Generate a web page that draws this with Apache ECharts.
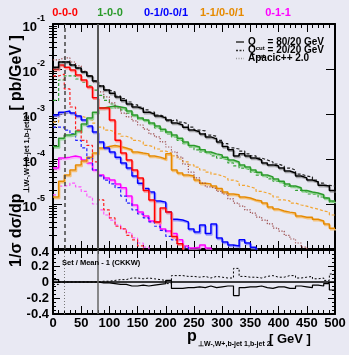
<!DOCTYPE html>
<html><head><meta charset="utf-8">
<script src="https://cdn.jsdelivr.net/npm/echarts@6/dist/echarts.min.js"></script>
<style>html,body{margin:0;padding:0;background:#e9e9f3;}#c{width:349px;height:355px;}</style>
</head><body><div id="c"></div>
<script>
// ---- data (10 GeV bins, lower bin edges) ----
const binLow = [0,10,20,30,40,50,60,70,80,90,100,110,120,130,140,150,160,170,180,190,200,210,220,230,240,250,260,270,280,290,300,310,320,330,340,350,360,370,380,390,400,410,420,430,440,450,460,470,480,490];
const xMax = 500;
const OFF = 1e-7; // below the visible range

const blackSolid = [1.1e-2,1.43e-2,1.43e-2,1.23e-2,1.05e-2,8.6e-3,7.0e-3,5.4e-3,4.2e-3,3.4e-3,2.9e-3,2.4e-3,2.0e-3,1.67e-3,1.43e-3,1.3e-3,1.1e-3,1.0e-3,9.0e-4,8.2e-4,7.4e-4,6.3e-4,5.7e-4,5.1e-4,4.4e-4,4.0e-4,3.6e-4,3.1e-4,2.8e-4,2.4e-4,1.9e-4,1.6e-4,1.17e-4,1.3e-4,1.17e-4,1.05e-4,9.5e-5,8.2e-5,7.4e-5,7.0e-5,6.3e-5,5.4e-5,4.9e-5,4.2e-5,3.8e-5,3.4e-5,3.1e-5,2.6e-5,2.5e-5,2.0e-5];
const blackDash = [1.05e-2,1.43e-2,1.43e-2,1.23e-2,1.05e-2,8.6e-3,7.0e-3,5.4e-3,4.2e-3,3.4e-3,3.1e-3,2.5e-3,2.2e-3,1.85e-3,1.6e-3,1.43e-3,1.23e-3,1.1e-3,9.5e-4,8.6e-4,7.0e-4,7.4e-4,6.6e-4,6.0e-4,5.1e-4,4.4e-4,4.2e-4,3.4e-4,3.2e-4,2.6e-4,2.2e-4,1.76e-4,1.67e-4,1.5e-4,1.3e-4,1.17e-4,1.05e-4,9.5e-5,8.6e-5,7.7e-5,7.0e-5,6.3e-5,5.7e-5,4.6e-5,4.2e-5,4.0e-5,3.4e-5,2.9e-5,2.6e-5,2.5e-5];
const apacicTotal = [1.6e-2,1.76e-2,1.76e-2,1.43e-2,1.17e-2,9.0e-3,7.0e-3,5.1e-3,3.1e-3,2.4e-3,1.76e-3,1.36e-3,1.05e-3,8.6e-4,7.0e-4,5.7e-4,4.6e-4,3.6e-4,3.1e-4,2.4e-4,1.85e-4,1.43e-4,1.1e-4,7.7e-5,5.1e-5,3.8e-5,2.9e-5,2.4e-5,2.2e-5,1.9e-5,1.67e-5,1.3e-5,1.05e-5,9.0e-6,7.4e-6,6.3e-6,5.1e-6,4.4e-6,3.6e-6,2.9e-6,2.5e-6,2.0e-6,1.67e-6,1.36e-6,1.1e-6,OFF];
const redSolid = [1.0e-2,1.23e-2,1.1e-2,9.5e-3,7.4e-3,5.7e-3,4.0e-3,2.3e-3,1.36e-3,1.36e-3,7.4e-4,2.6e-4,1.36e-4,9.5e-5,5.7e-5,3.8e-5,2.0e-5,1.23e-5,4.0e-6,8.2e-6,6.6e-6,1.9e-6,1.3e-6,OFF];
const redDash = [7.0e-3,7.7e-3,3.6e-3,1.43e-3,4.4e-4,2.6e-4,2.0e-4,8.6e-5,1.23e-5,7.4e-6,4.9e-6,3.2e-6,2.8e-6,2.0e-6,1.6e-6,1.17e-6,OFF];
const greenSolid = [1.9e-4,2.9e-4,3.4e-4,3.6e-4,4.2e-4,6.0e-4,8.2e-4,1.1e-3,1.36e-3,1.43e-3,1.5e-3,1.43e-3,1.36e-3,1.17e-3,9.5e-4,8.2e-4,7.4e-4,6.3e-4,5.4e-4,4.6e-4,4.0e-4,3.4e-4,2.9e-4,2.4e-4,2.0e-4,1.85e-4,1.6e-4,1.43e-4,1.3e-4,1.23e-4,1.1e-4,9.5e-5,8.6e-5,7.4e-5,6.6e-5,5.7e-5,5.1e-5,4.4e-5,4.0e-5,3.6e-5,3.2e-5,2.8e-5,2.5e-5,2.3e-5,2.0e-5,1.85e-5,1.76e-5,1.6e-5,1.36e-5,1.17e-5];
const greenDash = [2.0e-3,5.7e-3,7.0e-3,7.0e-3,6.0e-3,5.1e-3,4.2e-3,3.4e-3,2.6e-3,2.0e-3,1.67e-3,1.43e-3,1.23e-3,1.05e-3,9.0e-4,7.7e-4,7.0e-4,6.0e-4,4.9e-4,4.2e-4,3.6e-4,3.1e-4,2.6e-4,2.2e-4,1.85e-4,1.6e-4,1.43e-4,1.3e-4,1.17e-4,1.05e-4,9.5e-5,8.2e-5,7.0e-5,6.3e-5,5.7e-5,5.1e-5,4.4e-5,4.0e-5,3.6e-5,3.2e-5,2.9e-5,2.5e-5,2.3e-5,2.0e-5,1.85e-5,1.67e-5,1.6e-5,1.43e-5,1.3e-5,1.1e-5];
const blueSolid = [9.5e-4,1.1e-3,1.17e-3,1.05e-3,9.0e-4,7.4e-4,5.4e-4,4.0e-4,2.4e-4,1.76e-4,1.43e-4,1.1e-4,8.2e-5,6.3e-5,4.2e-5,2.9e-5,2.2e-5,1.85e-5,1.17e-5,1.1e-5,6.6e-6,4.6e-6,4.4e-6,4.0e-6,2.8e-6,2.4e-6,3.4e-6,2.2e-6,3.6e-6,1.76e-6,1.43e-6,1.23e-6,1.17e-6,1.6e-6,1.36e-6,1.1e-6,OFF];
const blueDash = [5.1e-4,5.1e-4,4.4e-4,3.6e-4,2.6e-4,1.76e-4,1.05e-4,5.7e-5,4.2e-5,3.4e-5,2.8e-5,2.3e-5,1.5e-5,1.05e-5,7.4e-6,6.0e-6,4.9e-6,4.0e-6,3.2e-6,2.6e-6,1.9e-6,1.6e-6,1.3e-6,1.1e-6,OFF];
const orangeSolid = [1.43e-5,3.2e-5,4.4e-5,5.7e-5,7.4e-5,9.0e-5,1.1e-4,1.36e-4,1.76e-4,1.9e-4,2.0e-4,1.9e-4,1.76e-4,1.6e-4,1.43e-4,1.36e-4,1.3e-4,1.17e-4,1.1e-4,1.0e-4,1.3e-4,5.7e-5,4.9e-5,4.4e-5,4.2e-5,3.4e-5,2.9e-5,2.8e-5,2.5e-5,2.2e-5,1.85e-5,1.67e-5,1.6e-5,1.43e-5,1.36e-5,1.23e-5,1.17e-5,1.05e-5,8.6e-6,7.7e-6,7.0e-6,6.6e-6,6.3e-6,5.4e-6,5.1e-6,5.1e-6,4.6e-6,4.2e-6,3.6e-6,2.9e-6];
const orangeDash = [6.6e-4,1.0e-3,1.05e-3,1.0e-3,9.0e-4,8.2e-4,7.4e-4,6.3e-4,5.1e-4,4.4e-4,4.0e-4,3.6e-4,3.2e-4,2.9e-4,2.6e-4,2.4e-4,2.0e-4,1.85e-4,1.67e-4,1.5e-4,1.36e-4,1.17e-4,1.0e-4,8.6e-5,7.4e-5,6.6e-5,5.7e-5,5.1e-5,4.6e-5,4.2e-5,3.8e-5,3.4e-5,3.1e-5,2.6e-5,2.4e-5,2.2e-5,1.9e-5,1.76e-5,1.6e-5,1.43e-5,1.23e-5,1.17e-5,1.05e-5,9.5e-6,9.0e-6,8.2e-6,7.7e-6,7.0e-6,6.6e-6,5.7e-6];
const magentaSolid = [6.3e-5,1.05e-4,1.1e-4,1.17e-4,1.1e-4,9.5e-5,8.2e-5,5.7e-5,4.4e-5,3.8e-5,3.4e-5,2.8e-5,2.3e-5,1.5e-5,9.5e-6,6.6e-6,5.4e-6,4.2e-6,3.8e-6,2.8e-6,2.5e-6,2.2e-6,1.6e-6,1.17e-6,1.05e-6,1.1e-6,1.23e-6,1.05e-6,OFF];
const magentaDash = [1.6e-5,2.5e-5,2.6e-5,2.9e-5,2.4e-5,1.9e-5,1.43e-5,1.0e-5,7.4e-6,5.7e-6,4.4e-6,3.4e-6,2.8e-6,2.3e-6,1.76e-6,1.36e-6,1.1e-6,OFF];

// ratio panel: Set / Mean - 1
const ratioSolid = [0.03,0,0,0,0,0,0,0,-0.01,-0.01,-0.02,-0.03,-0.03,-0.05,-0.05,-0.04,-0.05,-0.04,-0.03,-0.02,0.02,-0.08,-0.08,-0.07,-0.07,-0.06,-0.07,-0.05,-0.07,-0.06,-0.05,-0.05,-0.17,-0.07,-0.06,-0.06,-0.05,-0.07,-0.08,-0.06,-0.06,-0.08,-0.08,-0.05,-0.06,-0.07,-0.04,-0.05,-0.02,-0.10];
const ratioDash = [-0.03,0,0,0,0,0,0,0,0.01,0.01,0.02,0.03,0.03,0.05,0.05,0.04,0.05,0.04,0.03,0.02,-0.02,0.08,0.08,0.07,0.07,0.06,0.07,0.05,0.07,0.06,0.05,0.05,0.17,0.07,0.06,0.06,0.05,0.07,0.08,0.06,0.06,0.08,0.08,0.05,0.06,0.07,0.04,0.05,0.02,0.10];

const multLabels = ['0-0-0','1-0-0','0-1/0-0/1','1-1/0-0/1','0-1-1'];
const multColors = ['#ff0000','#2a9a2a','#0000ff','#e68a00','#ff00ff'];
const multX = [65,110,166,222,278];
const legendLabels = ['= 80/20 GeV','= 20/20 GeV','Apacic++ 2.0'];
const cutMarks = [20, 80];

const FONT = '"Liberation Sans", Arial, Helvetica, sans-serif';

function hist(vals){
  const d = vals.map((v,i)=>[binLow[i], v]);
  d.push([vals.length < binLow.length ? binLow[vals.length] : xMax, vals[vals.length-1]]);
  return d;
}
function mk(vals, color, dash, width, shadow, lower){
  const ls = {color: color, width: width, type: dash || 'solid', cap: 'butt'};
  if (shadow) Object.assign(ls, {shadowColor: shadow, shadowBlur: 0, shadowOffsetX: 1, shadowOffsetY: 1.5});
  return {type:'line', data: hist(vals), step:'end', symbol:'none', silent:true,
    xAxisIndex: lower?2:0, yAxisIndex: lower?2:0, lineStyle: ls, emphasis:{disabled:true}};
}

const minorLog = [];
for (let d = -6; d <= -2; d++) for (let k = 2; k <= 9; k++) minorLog.push(k * Math.pow(10, d));

const axLine = {show:true, onZero:false, lineStyle:{color:'#000', width:2}};
function xa(grid, pos, labels){
  return {type:'value', gridIndex:grid, position:pos, min:0, max:xMax, interval:50,
    axisLine: axLine,
    axisTick:{show:true, inside:true, length:8, lineStyle:{color:'#000', width:1}},
    minorTick:{show:true, splitNumber:5, length:4, lineStyle:{color:'#000', width:1}},
    splitLine:{show:false}, minorSplitLine:{show:false},
    axisLabel:{show:labels, color:'#000', fontFamily:FONT, fontWeight:'bold', fontSize:13, margin:3}};
}
const richLog = {
  b:{fontSize:13, fontWeight:'bold', fontFamily:FONT, color:'#000', lineHeight:20, verticalAlign:'bottom'},
  e:{fontSize:9, fontWeight:'bold', fontFamily:FONT, color:'#000', lineHeight:10, verticalAlign:'top'}
};
function yl(pos, labels){
  return {type:'log', logBase:10, gridIndex:0, position:pos, min:1e-6, max:0.1,
    axisLine: axLine,
    axisTick:{show:true, inside:true, length:9, lineStyle:{color:'#000', width:1}},
    splitLine:{show:false},
    axisLabel:{show:labels, margin:8, showMinLabel:false,
      formatter: v => '{b|10}{e|' + Math.round(Math.log10(v)) + '}', rich: richLog}};
}
function ylMinor(pos){
  return {type:'log', logBase:10, gridIndex:0, position:pos, min:1e-6, max:0.1,
    axisLine:{show:false}, splitLine:{show:false}, axisLabel:{show:false},
    axisTick:{show:true, inside:true, length:4, customValues: minorLog, lineStyle:{color:'#000', width:1}}};
}
const ratioLabelStyle = {fontFamily:FONT, fontWeight:'bold', fontSize:13, color:'#000'};
function yr(pos, labels){
  return {type:'value', gridIndex:1, position:pos, min:-0.4, max:0.4, interval:0.2,
    axisLine: axLine,
    axisTick:{show:true, inside:true, length:7, lineStyle:{color:'#000', width:1}},
    minorTick:{show:true, splitNumber:4, length:3, lineStyle:{color:'#000', width:1}},
    splitLine:{show:false}, minorSplitLine:{show:false},
    axisLabel:{show:labels, color:'#000', fontFamily:FONT, fontWeight:'bold', fontSize:13, margin:4,
      showMaxLabel:true, showMinLabel:true, hideOverlap:false,
      formatter: v => (Math.abs(v - 0.4) < 1e-9 ? '{t|' + v + '}' : '{n|' + v + '}'),
      rich:{t:Object.assign({padding:[4,0,0,0]}, ratioLabelStyle), n:ratioLabelStyle}}};
}

const graphic = [];
multLabels.forEach((t,i)=>graphic.push({type:'text', x:multX[i], y:13, z:100, silent:true,
  style:{text:t, fill:multColors[i], font:'bold 11px '+FONT, textAlign:'center', align:'center', textVerticalAlign:'middle', verticalAlign:'middle'}}));
// legend (top right)
const legY = [42, 50.5, 58.5];
const legDash = [null, [2,1.5], [1,1.5]];
const legCol = ['#333','#333','#999'];
legY.forEach((y,i)=>{
  graphic.push({type:'line', z:100, silent:true, shape:{x1:236, y1:y, x2:244, y2:y},
    style:{stroke:legCol[i], lineWidth:1.5, lineDash:legDash[i]}});
});
[0,1].forEach(i=>{
  graphic.push({type:'text', x:248, y:legY[i]+2, z:100, silent:true,
    style:{text:'{q|Q}{c|cut}{q| '+legendLabels[i]+'}', textAlign:'left', align:'left', textVerticalAlign:'middle', verticalAlign:'middle',
      rich:{q:{fontSize:10, fontWeight:'bold', fontFamily:FONT, fill:'#000', color:'#000', lineHeight:14, verticalAlign:'top'},
            c:{fontSize:6, fontWeight:'bold', fontFamily:FONT, fill:'#000', color:'#000', verticalAlign:'bottom'}}}});
});
graphic.push({type:'text', x:248, y:legY[2], z:100, silent:true,
  style:{text:legendLabels[2], fill:'#000', font:'bold 10px '+FONT, textAlign:'left', align:'left', textVerticalAlign:'middle', verticalAlign:'middle'}});
// ratio panel caption
graphic.push({type:'text', x:62, y:263, z:100, silent:true,
  style:{text:'Set / Mean - 1 (CKKW)', fill:'#000', font:'bold 7.5px '+FONT, textAlign:'left', align:'left', textVerticalAlign:'middle', verticalAlign:'middle'}});
// y title
graphic.push({type:'text', x:19.5, y:151, rotation:Math.PI/2, z:100, silent:true,
  style:{text:'{a|1/σ dσ/dp}{s|⊥W-,W+,b-jet 1,b-jet 2}{a| [ pb/GeV ]}', textAlign:'center', align:'center', textVerticalAlign:'middle', verticalAlign:'middle',
    rich:{a:{fontSize:16, fontWeight:'bold', fontFamily:FONT, fill:'#000', color:'#000', lineHeight:22, verticalAlign:'top'},
          s:{fontSize:7.5, fontWeight:'bold', fontFamily:FONT, fill:'#000', color:'#000', verticalAlign:'bottom'}}}});
// x title
graphic.push({type:'text', x:187, y:337, z:100, silent:true,
  style:{text:'p', fill:'#000', font:'bold 16px '+FONT, textAlign:'left', align:'left', textVerticalAlign:'middle', verticalAlign:'middle'}});
graphic.push({type:'text', x:198, y:344.5, z:100, silent:true,
  style:{text:'⊥W-,W+,b-jet 1,b-jet 2', fill:'#000', font:'bold 7px '+FONT, textAlign:'left', align:'left', textVerticalAlign:'middle', verticalAlign:'middle'}});
graphic.push({type:'text', x:269, y:339.5, z:100, silent:true,
  style:{text:'[ GeV ]', fill:'#000', font:'bold 13px '+FONT, textAlign:'left', align:'left', textVerticalAlign:'middle', verticalAlign:'middle'}});

const sBlack = mk(blackSolid, '#000', null, 1.5, 'rgba(120,120,120,0.6)');
sBlack.markLine = {silent:true, symbol:['none','none'], label:{show:false}, animation:false,
  data:[{xAxis:cutMarks[0], lineStyle:{color:'#444', width:1.5, type:[4,3]}},
        {xAxis:cutMarks[1], lineStyle:{color:'#555', width:2, type:'solid'}}]};
const sRatio = mk(ratioSolid, '#000', null, 1.2, null, true);
sRatio.markLine = {silent:true, symbol:['none','none'], label:{show:false}, animation:false,
  data:[{yAxis:0, lineStyle:{color:'#000', width:1.5, type:'solid'}},
        {xAxis:cutMarks[0], lineStyle:{color:'#777', width:1, type:[1,2]}},
        {xAxis:cutMarks[1], lineStyle:{color:'#666', width:1.5, type:'solid'}}]};

const option = {
  backgroundColor:'#e9e9f3',
  animation:false,
  grid:[{left:53, right:14, top:24, height:225}, {left:53, right:14, top:250, height:64}],
  xAxis:[xa(0,'bottom',false), xa(0,'top',false), xa(1,'bottom',true), xa(1,'top',false)],
  yAxis:[yl('left',true), yl('right',false), yr('left',true), yr('right',false), ylMinor('left'), ylMinor('right')],
  graphic: graphic,
  series:[
    mk(magentaDash, '#ff55ff', [3,2], 1.2),
    mk(magentaSolid, '#ff00ff', null, 1.5, 'rgba(255,150,255,0.8)'),
    mk(orangeDash, '#f2a531', [3,2], 1.2),
    mk(orangeSolid, '#e68a00', null, 1.5, 'rgba(245,190,110,0.9)'),
    mk(blueDash, '#2020ff', [3,2], 1.2),
    mk(blueSolid, '#0000ff', null, 1.5, 'rgba(130,130,255,0.8)'),
    mk(greenDash, '#33a033', [3,2], 1.2),
    mk(greenSolid, '#2a9a2a', null, 1.5, 'rgba(140,210,140,0.9)'),
    mk(redDash, '#ff2020', [3,2], 1.2),
    mk(redSolid, '#ff0000', null, 1.5, 'rgba(255,140,140,0.9)'),
    mk(apacicTotal, '#9b4a4a', [1.2,1.6], 1.2),
    mk(blackDash, '#222', [3,2], 1.2),
    sBlack,
    mk(ratioDash, '#000', [2,2], 1, null, true),
    sRatio
  ]
};
const chart = echarts.init(document.getElementById('c'), null, {renderer:'canvas'});
chart.setOption(option);
</script>
</body></html>
